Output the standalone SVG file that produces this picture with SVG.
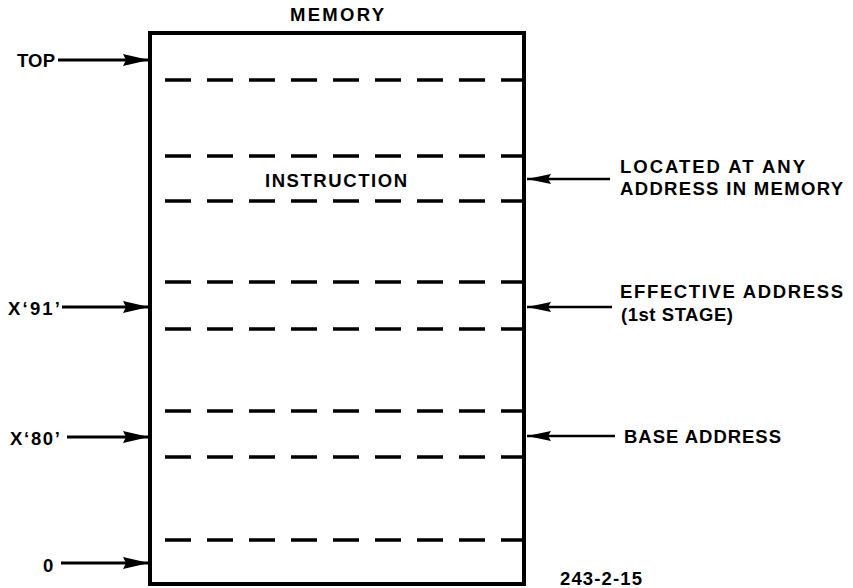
<svg xmlns="http://www.w3.org/2000/svg" width="853" height="588" viewBox="0 0 853 588">
<defs>
<marker id="al" markerWidth="26" markerHeight="12" refX="26" refY="6" orient="auto" markerUnits="userSpaceOnUse">
<path d="M0,0 L26,6 L0,12 L3,6 Z" fill="#000"/>
</marker>
<marker id="ar" markerWidth="24" markerHeight="10" refX="24" refY="5" orient="auto" markerUnits="userSpaceOnUse">
<path d="M0,0 L24,5 L0,10 L3,5 Z" fill="#000"/>
</marker>
</defs>
<style>
text{font-family:"Liberation Sans",Arial,sans-serif;font-weight:bold;fill:#000;font-size:18.5px}
.dash{stroke:#000;stroke-width:3.5;stroke-dasharray:26 16;stroke-dashoffset:27;fill:none}
.al{stroke:#000;stroke-width:3;fill:none;marker-end:url(#al)}
.ar{stroke:#000;stroke-width:2.5;fill:none;marker-end:url(#ar)}
.box{stroke:#000;stroke-width:4;fill:#fff}
</style>
<g id="memory">
<rect class="box" x="150" y="33" width="374" height="551"/>
<text x="290" y="21" textLength="94" lengthAdjust="spacing">MEMORY</text>
</g>
<g id="slots">
<line class="dash" x1="150" y1="80" x2="524" y2="80"/>
<line class="dash" x1="150" y1="156" x2="524" y2="156"/>
<line class="dash" x1="150" y1="201" x2="524" y2="201"/>
<line class="dash" x1="150" y1="282" x2="524" y2="282"/>
<line class="dash" x1="150" y1="329" x2="524" y2="329"/>
<line class="dash" x1="150" y1="411" x2="524" y2="411"/>
<line class="dash" x1="150" y1="457" x2="524" y2="457"/>
<line class="dash" x1="150" y1="540" x2="524" y2="540"/>
</g>
<g id="instruction"><text x="265" y="187" textLength="142" lengthAdjust="spacing">INSTRUCTION</text></g>
<g id="label-top"><text x="17" y="67" textLength="38" lengthAdjust="spacing">TOP</text></g>
<g id="label-91"><text x="8" y="315" textLength="52" lengthAdjust="spacing">X‘91’</text></g>
<g id="label-80"><text x="10" y="445" textLength="50" lengthAdjust="spacing">X‘80’</text></g>
<g id="label-0"><text x="43" y="572">0</text></g>
<g id="label-located"><text x="620" y="173" textLength="185" lengthAdjust="spacing">LOCATED AT ANY</text><text x="620" y="195" textLength="223" lengthAdjust="spacing">ADDRESS IN MEMORY</text></g>
<g id="label-effective"><text x="620" y="298" textLength="223" lengthAdjust="spacing">EFFECTIVE ADDRESS</text><text x="621" y="321" textLength="112" lengthAdjust="spacing">(1st STAGE)</text></g>
<g id="label-base"><text x="624" y="443" textLength="157" lengthAdjust="spacing">BASE ADDRESS</text></g>
<g id="fig"><text x="560" y="585" textLength="82" lengthAdjust="spacing">243-2-15</text></g>
<g id="connectors">
<line class="al" x1="58" y1="60" x2="149" y2="60"/>
<line class="al" x1="62" y1="307" x2="149" y2="307"/>
<line class="al" x1="67" y1="437" x2="149" y2="437"/>
<line class="al" x1="61" y1="563" x2="149" y2="563"/>
<line class="ar" x1="610" y1="179" x2="527" y2="179"/>
<line class="ar" x1="612" y1="307" x2="527" y2="307"/>
<line class="ar" x1="615" y1="436" x2="527" y2="436"/>
</g>
</svg>
